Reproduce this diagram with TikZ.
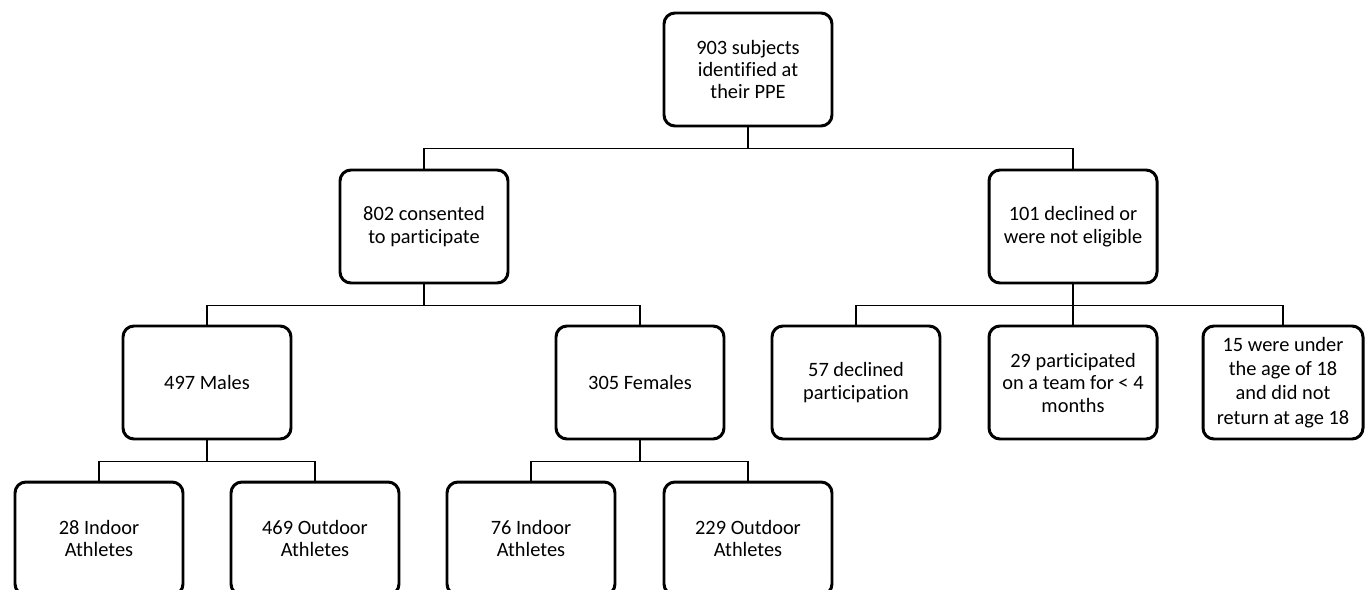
\documentclass[tikz,border=0pt]{standalone}
\usepackage{fontspec}
\setmainfont{Carlito}[Ligatures=NoCommon]
\usepackage{tikz}

\begin{document}
\begin{tikzpicture}[
    box/.style={draw, line width=1.7pt, rounded corners=0.22cm,
      minimum width=\bw cm, minimum height=\bh cm, inner sep=2pt,
      align=center, font=\fontsize{11.6}{12.8}\selectfont},
    conn/.style={line width=1.1pt}
  ]
        % Dimensioni
        \def\bw{3.36}   % larghezza di ogni box
        \def\bh{2.26}   % altezza di ogni box
        \def\d{0.42}    % distanza tra box e linea orizzontale

        % Area del disegno
        \useasboundingbox (0,0) rectangle (27.32,-11.8);

        % Livello 1
        \node[box] (subj) at (14.96,-1.39) {903 subjects\\identified at\\their PPE};

        % Livello 2
        \node[box] (cons) at (8.48,-4.53) {802 consented\\to participate};
        \node[box] (decl) at (21.46,-4.53) {101 declined or\\were not eligible};

        % Livello 3
        \node[box] (male) at (4.14,-7.65) {497 Males};
        \node[box] (fem) at (12.80,-7.65) {305 Females};
        \node[box] (rifiuto) at (17.12,-7.65) {57 declined\\participation};
        \node[box] (mesi) at (21.46,-7.65) {29 participated\\on a team for < 4\\months};
        \node[box, minimum width=3.2cm, font=\fontsize{11.6}{13.8}\selectfont] (eta) at (25.66,-7.65) {15 were under\\the age of 18\\and did not\\return at age 18};

        % Livello 4
        \node[box] (mind) at (1.98,-10.77) {28 Indoor\\Athletes};
        \node[box] (mout) at (6.30,-10.77) {469 Outdoor\\Athletes};
        \node[box] (find) at (10.62,-10.77) {76 Indoor\\Athletes};
        \node[box] (fout) at (14.96,-10.77) {229 Outdoor\\Athletes};

        % Collegamenti
        \draw[conn] (subj.south) -- ++(0,-\d) -| (cons.north);
        \draw[conn] (subj.south) -- ++(0,-\d) -| (decl.north);
        \draw[conn] (cons.south) -- ++(0,-\d) -| (male.north);
        \draw[conn] (cons.south) -- ++(0,-\d) -| (fem.north);
        \draw[conn] (decl.south) -- ++(0,-\d) -| (rifiuto.north);
        \draw[conn] (decl.south) -- ++(0,-\d) -| (mesi.north);
        \draw[conn] (decl.south) -- ++(0,-\d) -| (eta.north);
        \draw[conn] (male.south) -- ++(0,-\d) -| (mind.north);
        \draw[conn] (male.south) -- ++(0,-\d) -| (mout.north);
        \draw[conn] (fem.south) -- ++(0,-\d) -| (find.north);
        \draw[conn] (fem.south) -- ++(0,-\d) -| (fout.north);

    \end{tikzpicture}
\end{document}
